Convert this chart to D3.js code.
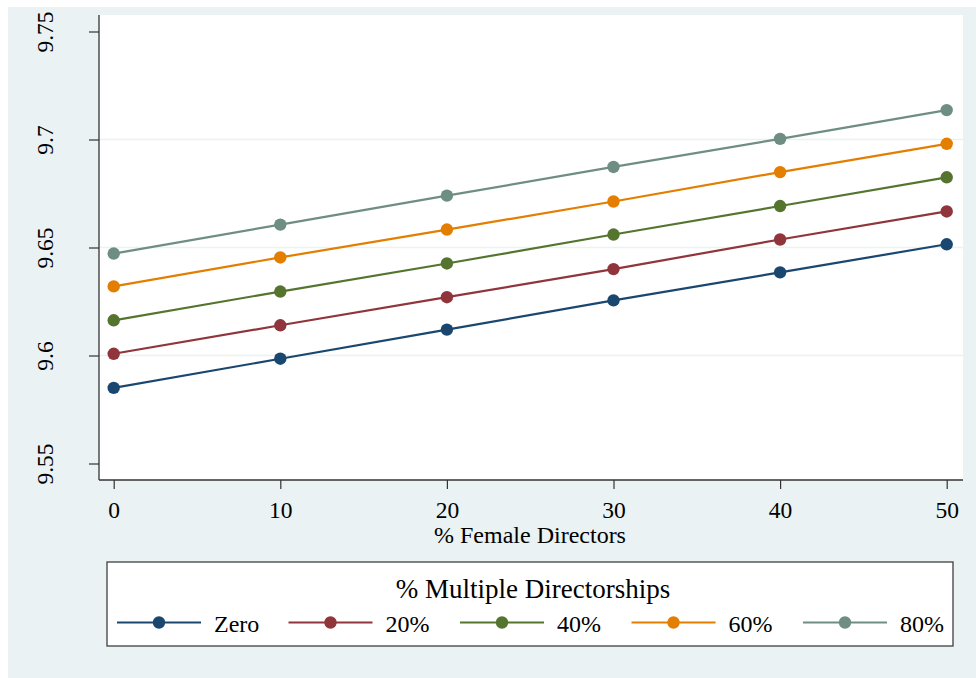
<!DOCTYPE html>
<html>
<head>
<meta charset="utf-8">
<script src="https://cdn.jsdelivr.net/npm/d3@7/dist/d3.min.js"></script>
<style>
  html, body { margin: 0; padding: 0; background: #ffffff; }
  svg { display: block; }
  text { font-family: "Liberation Serif", "Times New Roman", serif; fill: #000; }
</style>
</head>
<body>
<svg id="chart" width="976" height="678"></svg>
<script>
// ---- data ----
const xValues = [0, 10, 20, 30, 40, 50];
const seriesNames = ["Zero", "20%", "40%", "60%", "80%"];
const seriesColors = ["#1a476f", "#90353b", "#55752f", "#e37e00", "#6e8e84"];
const zeroVals   = [9.5850, 9.5985, 9.6120, 9.6255, 9.6385, 9.6515];
const pct20Vals  = [9.6008, 9.6140, 9.6270, 9.6400, 9.6537, 9.6667];
const pct40Vals  = [9.6163, 9.6296, 9.6426, 9.6560, 9.6692, 9.6825];
const pct60Vals  = [9.6320, 9.6454, 9.6583, 9.6713, 9.6849, 9.6980];
const pct80Vals  = [9.6472, 9.6606, 9.6740, 9.6873, 9.7003, 9.7136];
const yTicks = [9.55, 9.6, 9.65, 9.7, 9.75];
const yTickLabels = ["9.55", "9.6", "9.65", "9.7", "9.75"];
const xTicks = [0, 10, 20, 30, 40, 50];
const xTitle = "% Female Directors";
const legendTitle = "% Multiple Directorships";

const allSeries = [zeroVals, pct20Vals, pct40Vals, pct60Vals, pct80Vals].map((vals, i) => ({
  name: seriesNames[i], color: seriesColors[i],
  points: xValues.map((x, j) => ({ x, y: vals[j] }))
}));

// ---- layout ----
const svg = d3.select("#chart");
const plot = { left: 99, right: 963, top: 15, bottom: 480 };

svg.append("rect").attr("x", 8).attr("y", 7).attr("width", 968).attr("height", 671)
  .attr("fill", "#eaf2f3");
svg.append("rect").attr("x", plot.left).attr("y", plot.top)
  .attr("width", plot.right - plot.left).attr("height", plot.bottom - plot.top)
  .attr("fill", "#ffffff");

const x = d3.scaleLinear().domain([0, 50]).range([113.7, 946.7]);
const y = d3.scaleLinear().domain([9.55, 9.75]).range([463.5, 31.5]);

// gridlines
svg.append("g").selectAll("line").data([9.6, 9.65, 9.7]).join("line")
  .attr("x1", plot.left).attr("x2", plot.right)
  .attr("y1", d => y(d)).attr("y2", d => y(d))
  .attr("stroke", "#eaf2f3").attr("stroke-width", 1.5);

// y axis
const yAxis = d3.axisLeft(y).tickValues(yTicks).tickSize(10)
  .tickFormat((d, i) => yTickLabels[i]);
const gy = svg.append("g").attr("transform", `translate(${plot.left},0)`).call(yAxis);
gy.select(".domain").remove();
gy.selectAll(".tick line").attr("stroke", "#333").attr("stroke-width", 1.2);
gy.selectAll(".tick text")
  .attr("x", null).attr("dy", null)
  .attr("transform", "translate(-46,0) rotate(-90)")
  .attr("text-anchor", "middle")
  .style("font-size", "23.5px").style("font-family", "Liberation Serif");
svg.append("line").attr("x1", plot.left).attr("x2", plot.left)
  .attr("y1", plot.top).attr("y2", plot.bottom).attr("stroke", "#333").attr("stroke-width", 1.3);

// x axis
const xAxis = d3.axisBottom(x).tickValues(xTicks).tickSize(9).tickFormat(d3.format("d"));
const gx = svg.append("g").attr("transform", `translate(0,${plot.bottom})`).call(xAxis);
gx.select(".domain").remove();
gx.selectAll(".tick line").attr("stroke", "#333").attr("stroke-width", 1.2);
gx.selectAll(".tick text").attr("y", 38).attr("dy", null)
  .style("font-size", "23.5px").style("font-family", "Liberation Serif");
svg.append("line").attr("x1", plot.left).attr("x2", plot.right)
  .attr("y1", plot.bottom).attr("y2", plot.bottom).attr("stroke", "#333").attr("stroke-width", 1.3);

svg.append("text").attr("x", 530).attr("y", 543).attr("text-anchor", "middle")
  .style("font-size", "24px").text(xTitle);

// series
const line = d3.line().x(d => x(d.x)).y(d => y(d.y));
const gs = svg.append("g");
allSeries.forEach(s => {
  gs.append("path").attr("d", line(s.points)).attr("fill", "none")
    .attr("stroke", s.color).attr("stroke-width", 2.2);
  gs.selectAll(null).data(s.points).join("circle")
    .attr("cx", d => x(d.x)).attr("cy", d => y(d.y)).attr("r", 6.2)
    .attr("fill", s.color);
});

// legend
const lg = svg.append("g");
lg.append("rect").attr("x", 107).attr("y", 562).attr("width", 846).attr("height", 84)
  .attr("fill", "#ffffff").attr("stroke", "#404040").attr("stroke-width", 1.3);
lg.append("text").attr("x", 533).attr("y", 598).attr("text-anchor", "middle")
  .style("font-size", "27px").text(legendTitle);
allSeries.forEach((s, i) => {
  const x0 = 117 + i * 171.5;
  lg.append("line").attr("x1", x0).attr("x2", x0 + 84).attr("y1", 622.5).attr("y2", 622.5)
    .attr("stroke", s.color).attr("stroke-width", 2.2);
  lg.append("circle").attr("cx", x0 + 42).attr("cy", 622.5).attr("r", 6.2).attr("fill", s.color);
  lg.append("text").attr("x", x0 + 97).attr("y", 632).style("font-size", "24px").text(s.name);
});
</script>
</body>
</html>
